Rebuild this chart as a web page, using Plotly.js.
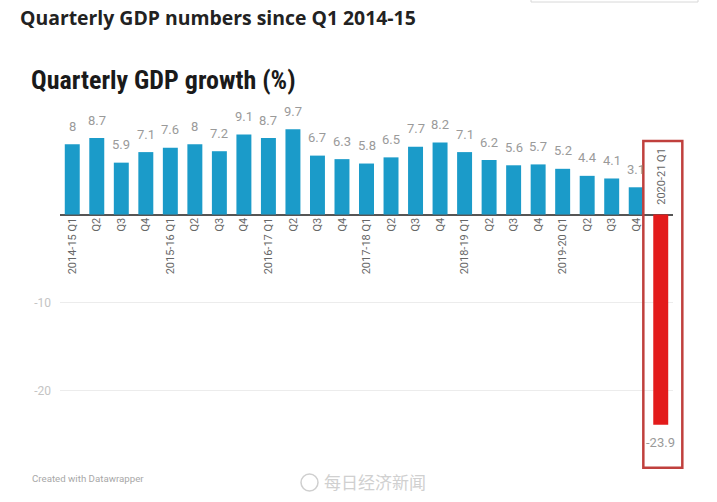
<!DOCTYPE html>
<html>
<head>
<meta charset="utf-8">
<script src="https://cdn.plot.ly/plotly-3.0.1.min.js"></script>
<style>html,body{margin:0;padding:0;background:#fff;}#chart{width:717px;height:502px;}</style>
</head>
<body>
<div id="chart"></div>
<script>
// ---- data ----
const categories = [
  "2014-15 Q1","2014-15 Q2","2014-15 Q3","2014-15 Q4",
  "2015-16 Q1","2015-16 Q2","2015-16 Q3","2015-16 Q4",
  "2016-17 Q1","2016-17 Q2","2016-17 Q3","2016-17 Q4",
  "2017-18 Q1","2017-18 Q2","2017-18 Q3","2017-18 Q4",
  "2018-19 Q1","2018-19 Q2","2018-19 Q3","2018-19 Q4",
  "2019-20 Q1","2019-20 Q2","2019-20 Q3","2019-20 Q4",
  "2020-21 Q1"
];
const tickLabels = [
  "2014-15 Q1","Q2","Q3","Q4",
  "2015-16 Q1","Q2","Q3","Q4",
  "2016-17 Q1","Q2","Q3","Q4",
  "2017-18 Q1","Q2","Q3","Q4",
  "2018-19 Q1","Q2","Q3","Q4",
  "2019-20 Q1","Q2","Q3","Q4",
  "2020-21 Q1"
];
const gdpGrowth = [8, 8.7, 5.9, 7.1, 7.6, 8, 7.2, 9.1, 8.7, 9.7, 6.7, 6.3,
                   5.8, 6.5, 7.7, 8.2, 7.1, 6.2, 5.6, 5.7, 5.2, 4.4, 4.1, 3.1, -23.9];
const yTickVals = [-10, -20];
const yTickText = ["-10", "-20"];

// ---- layout geometry ----
const W = 717, H = 502;
const M = {l: 60, r: 44, t: 109, b: 28};
const PW = W - M.l - M.r, PH = H - M.t - M.b;
const yRange = [-29.5, 12];
const px2x = px => (px - M.l) / PW;
const py2y = py => (H - M.b - py) / PH;
const val2y = v => (v - yRange[0]) / (yRange[1] - yRange[0]);
const idx2x = i => (i + 0.5) / categories.length;

const blue = "#1b9bc9", red = "#e31b1b";
const colors = gdpGrowth.map(v => v < 0 ? red : blue);
const lastIdx = categories.length - 1;

const annotations = [];
gdpGrowth.forEach((v, i) => {
  annotations.push({
    x: categories[i], y: v, xref: "x", yref: "y",
    text: String(v), showarrow: false,
    yshift: v >= 0 ? 18 : -18, yanchor: "middle",
    font: {family: "Roboto, sans-serif", size: 13, color: "#9a9a9a"}
  });
});
// label of negative category sits above the zero line
annotations.push({
  x: categories[lastIdx], y: 0, xref: "x", yref: "y",
  text: tickLabels[lastIdx], textangle: -90, showarrow: false,
  yanchor: "bottom", yshift: 8,
  font: {family: "Roboto, sans-serif", size: 11, color: "#666"}
});
// chart title
annotations.push({
  xref: "paper", yref: "paper", x: px2x(29), y: py2y(80),
  xanchor: "left", yanchor: "middle", showarrow: false,
  text: "<b>Quarterly GDP growth (%)</b>",
  font: {family: "'Liberation Sans Narrow', 'Roboto Condensed', Roboto, sans-serif", size: 26, color: "#1a1a1a"}
});
// footer
annotations.push({
  xref: "paper", yref: "paper", x: px2x(30), y: py2y(478),
  xanchor: "left", yanchor: "middle", showarrow: false,
  text: "Created with Datawrapper",
  font: {family: "Roboto, sans-serif", size: 9.7, color: "#a8a8a8"}
});
// watermark
annotations.push({
  xref: "paper", yref: "paper", x: px2x(322), y: py2y(482),
  xanchor: "left", yanchor: "middle", showarrow: false,
  text: "每日经济新闻",
  font: {family: "'Noto Sans CJK SC', sans-serif", size: 17, color: "#d0d0d0"}
});

const shapes = [
  // highlight box around last quarter (paper refs so it is not clipped)
  {type: "rect", xref: "paper", yref: "paper",
   x0: idx2x(lastIdx - 0.71), x1: idx2x(lastIdx + 0.88),
   y0: val2y(-28.8), y1: val2y(8.35),
   line: {color: "#c0403d", width: 2.5}, fillcolor: "rgba(0,0,0,0)", layer: "above"},
  // watermark logo
  {type: "circle", xref: "paper", yref: "paper",
   x0: px2x(301), x1: px2x(318), y0: py2y(491), y1: py2y(474),
   line: {color: "#cfcfcf", width: 1.5}},
  // top-right UI fragment
  {type: "rect", xref: "paper", yref: "paper",
   x0: px2x(531), x1: px2x(698), y0: py2y(2), y1: py2y(-6),
   line: {color: "#d8d8d8", width: 1}}
];

const trace = {
  type: "bar", x: categories, y: gdpGrowth,
  marker: {color: colors}, hoverinfo: "skip", cliponaxis: false
};

const layout = {
  width: W, height: H, margin: M,
  paper_bgcolor: "#fff", plot_bgcolor: "#fff",
  showlegend: false, bargap: 0.39,
  title: {
    text: "<b>Quarterly GDP numbers since Q1 2014-15</b>",
    xref: "container", yref: "container", x: 20 / W, y: 1 - 18 / H,
    xanchor: "left", yanchor: "middle",
    font: {family: "'Open Sans', Lato, sans-serif", size: 19.4, color: "#222"}
  },
  xaxis: {
    type: "category", range: [-0.5, lastIdx + 0.5],
    anchor: "free", position: val2y(0),
    tickvals: categories, ticktext: tickLabels.map((t, i) => i === lastIdx ? "" : t),
    tickangle: -90, ticks: "", showline: false, showgrid: false, zeroline: false,
    tickfont: {family: "Roboto, sans-serif", size: 11, color: "#666"}
  },
  yaxis: {
    range: yRange, tickvals: yTickVals, ticktext: yTickText,
    showgrid: true, gridcolor: "#ececec", gridwidth: 1,
    zeroline: true, zerolinecolor: "#555", zerolinewidth: 2,
    showline: false, ticks: "", ticklabelstandoff: 8,
    tickfont: {family: "Roboto, sans-serif", size: 12, color: "#c4c4c4"}
  },
  annotations: annotations,
  shapes: shapes
};

Plotly.newPlot("chart", [trace], layout, {displayModeBar: false, staticPlot: true});
</script>
</body>
</html>
